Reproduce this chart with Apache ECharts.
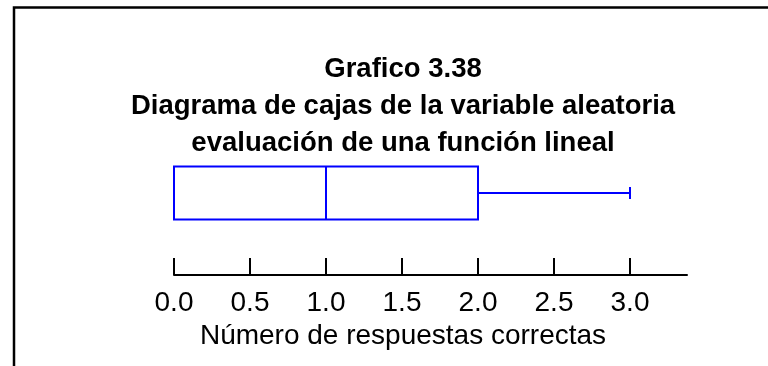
<!DOCTYPE html>
<html>
<head>
<meta charset="utf-8">
<title>Grafico 3.38</title>
<script src="https://cdn.jsdelivr.net/npm/echarts@6/dist/echarts.min.js"></script>
<style>
    html, body { margin: 0; padding: 0; background: #fff; }
    #chart { width: 768px; height: 366px; }
</style>
</head>
<body>
<div id="chart"></div>
<script>
    // datos del grafico
    var titleLines = ['Grafico 3.38', 'Diagrama de cajas de la variable aleatoria', 'evaluación de una función lineal'];
    var axisName = 'Número de respuestas correctas';
    var categories = ['evaluación'];
    // min, Q1, mediana, Q3, max
    var boxStats = [0, 0, 1, 2, 3];
    var tickValues = [0, 0.5, 1, 1.5, 2, 2.5, 3];
    var axisMax = 3.375;

    var FONT = '"Liberation Sans", Arial, sans-serif';
    var BLUE = '#0000ff';

    var chart = echarts.init(document.getElementById('chart'));

    /****************box renderItem*******************/
    function renderBox(params, api) {
        var y = api.value(0);
        var half = api.size([0, 1])[1] * 0.323 / 2;
        var capHalf = 6;
        var pMin = api.coord([api.value(1), y]);
        var pQ1 = api.coord([api.value(2), y]);
        var pMed = api.coord([api.value(3), y]);
        var pQ3 = api.coord([api.value(4), y]);
        var pMax = api.coord([api.value(5), y]);
        var style = {stroke: BLUE, lineWidth: 2, fill: null};
        var cy = pMed[1];
        return {
            type: 'group',
            children: [
                {type: 'rect', shape: {x: pQ1[0], y: cy - half, width: pQ3[0] - pQ1[0], height: half * 2}, style: style},
                {type: 'line', shape: {x1: pMed[0], y1: cy - half, x2: pMed[0], y2: cy + half}, style: style},
                {type: 'line', shape: {x1: pMin[0], y1: cy, x2: pQ1[0], y2: cy}, style: style},
                {type: 'line', shape: {x1: pQ3[0], y1: cy, x2: pMax[0], y2: cy}, style: style},
                {type: 'line', shape: {x1: pMin[0], y1: cy - capHalf, x2: pMin[0], y2: cy + capHalf}, style: style},
                {type: 'line', shape: {x1: pMax[0], y1: cy - capHalf, x2: pMax[0], y2: cy + capHalf}, style: style}
            ]
        };
    }

    var option = {
        animation: false,
        backgroundColor: '#fff',
        graphic: [
            {
                type: 'rect',
                shape: {x: 14, y: 7.5, width: 900, height: 500},
                style: {fill: null, stroke: '#000', lineWidth: 2.5},
                silent: true
            },
            {
                type: 'text',
                x: 403,
                y: 51,
                style: {
                    text: titleLines.join('\n'),
                    align: 'center',
                    verticalAlign: 'top',
                    font: 'bold 27.5px ' + FONT,
                    lineHeight: 37,
                    fill: '#000'
                }
            }
        ],
        grid: {left: 174, right: 81, top: 111, bottom: 91},
        xAxis: {
            type: 'value',
            min: 0,
            max: axisMax,
            name: axisName,
            nameLocation: 'middle',
            nameGap: 47,
            nameTextStyle: {fontFamily: FONT, fontSize: 28, color: '#000', padding: [0, 55, 0, 0]},
            axisLine: {show: true, lineStyle: {color: '#000', width: 2}},
            axisTick: {show: true, inside: true, length: 17, lineStyle: {color: '#000', width: 2}, customValues: tickValues},
            axisLabel: {
                margin: 14,
                fontFamily: FONT,
                fontSize: 28,
                color: '#000',
                customValues: tickValues,
                formatter: function (v) { return v.toFixed(1); }
            },
            splitLine: {show: false}
        },
        yAxis: {
            type: 'category',
            data: categories,
            show: false
        },
        series: [
            {
                type: 'custom',
                renderItem: renderBox,
                encode: {x: [1, 2, 3, 4, 5], y: 0},
                data: [[0].concat(boxStats)]
            }
        ]
    };
    chart.setOption(option);
</script>
</body>
</html>
